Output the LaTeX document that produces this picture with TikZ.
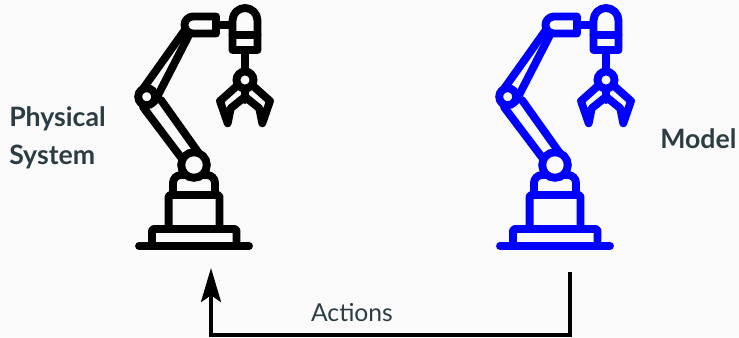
\documentclass[tikz,border=0pt]{standalone}
\usepackage{fontspec}
\setmainfont{Lato}
\usetikzlibrary{positioning,arrows.meta}
\usepackage{xcolor}
\definecolor{bgpaper}{HTML}{FAFAFA}
\definecolor{labelteal}{HTML}{2B3D43}
\definecolor{modelblue}{HTML}{0000FF}

\begin{document}
\begin{tikzpicture}[
  x=0.75pt, y=-0.75pt,
  limb/.style={line width=5.9pt, line join=round, line cap=round},
  joint/.style={line width=5.9pt, fill=bgpaper},
  heading/.style={font=\fontsize{20}{28.5}\selectfont\bfseries, text=labelteal, align=left, inner sep=0pt},
  caption/.style={font=\fontsize{18.5}{22}\selectfont, text=labelteal, inner sep=0pt},
  arrow/.style={-{Stealth[length=25.5pt, width=15pt, inset=5pt]}, line width=2.5pt},
  robot/.pic={
    % Base
    \draw[limb] (139,246) -- (249,246);
    \draw[limb, line cap=butt, rounded corners=1.5pt] (152,246) -- (152,229) -- (236.5,229) -- (236.5,246);
    \draw[limb, line cap=butt, rounded corners=1.5pt] (168.6,227) -- (168.6,195) -- (219.5,195) -- (219.5,227);
    \draw[limb, line cap=butt, rounded corners=6pt] (173,193) -- (173,175) -- (215,175) -- (215,193);
    % Forearm
    \draw[limb] (143,107) -- (183,160);
    \draw[limb] (161,100) -- (198,152);
    % Upper arm
    \draw[limb] (140,93) -- (187,27);
    \draw[limb] (155,101) -- (190,33);
    % Joints
    \draw[joint] (194,165) circle (12.8);
    \draw[joint] (146.7,96.7) circle (8.5);
    % Head
    \draw[limb] (216,25) -- (232,25);
    \draw[limb, fill=bgpaper] (193,16.5) arc[start angle=270, end angle=90, radius=8.5] -- (216,33.5) -- (216,16.5) -- cycle;
    % Gripper
    \draw[limb] (232.5,34.7) -- (257.5,34.7);
    \draw[limb] (232.5,20.5) arc[start angle=180, end angle=360, radius=12.5] -- (257.5,50) -- (232.5,50) -- cycle;
    \draw[limb] (245,54) -- (245,70);
    \draw[limb] (245,90) -- (245,100);
    \draw[limb] (235.7,87) -- (220,101) -- (227.7,123.3) -- (230.7,108.3) -- (245,96.7) -- (259.3,108.3) -- (262.3,123.3) -- (270,101) -- (254.3,87);
    \draw[joint] (245,80) circle (8.5);
  },
]

\fill[bgpaper] (0,0) rectangle (739,337);
\useasboundingbox (0,0) rectangle (739,337);

% Robots
\pic[black] (physical) at (0,0) {robot};
\pic[modelblue] (model) at (361,0) {robot};

% Labels
\node[heading, anchor=west] (physlabel) at (9,138) {Physical\\System};
\node[heading, anchor=west] (modellabel) at (660,139) {Model};
\node[caption] (actions) at (352,313) {Actions};

% Feedback line
\coordinate (modelfoot) at (570,272);
\coordinate (modelcorner) at (570,335);
\coordinate (physcorner) at (211,335);
\coordinate (physfoot) at (211,268);
\draw[arrow] (modelfoot) -- (modelcorner) -- (physcorner) -- (physfoot);

\end{tikzpicture}
\end{document}
